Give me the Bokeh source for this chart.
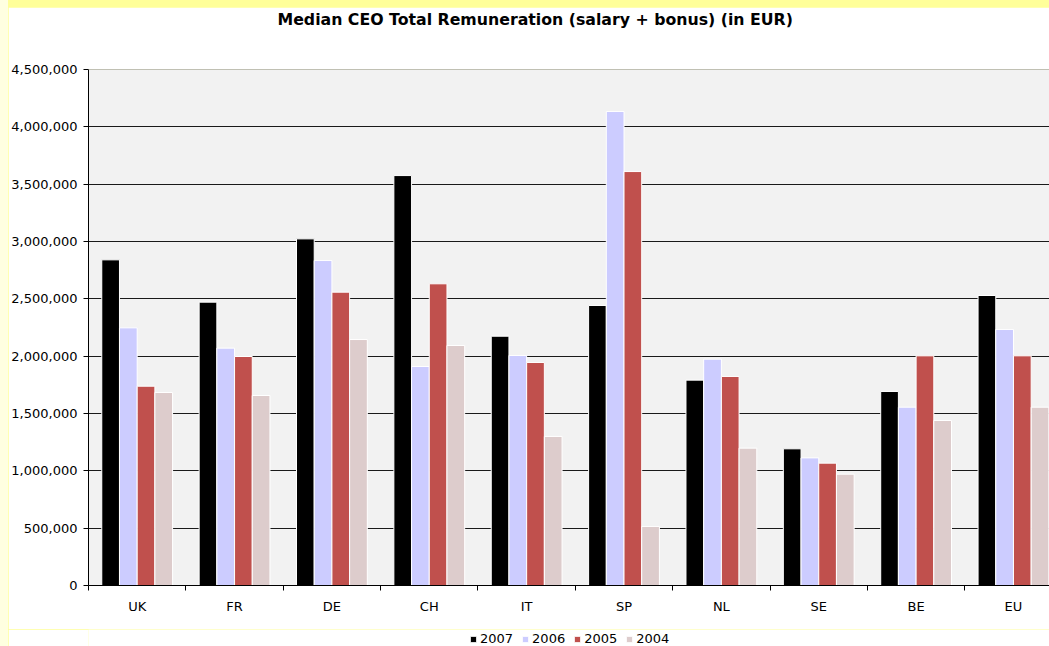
from bokeh.plotting import figure
from bokeh.models import (Range1d, FixedTicker, NumeralTickFormatter, Legend,
                          LegendItem, ColumnDataSource, Span, Title)
from bokeh.layouts import column
from bokeh.embed import file_html
from bokeh.resources import INLINE

countries = ["UK", "FR", "DE", "CH", "IT", "SP", "NL", "SE", "BE", "EU"]
years = ["2007", "2006", "2005", "2004"]
v2007 = [2840000, 2471000, 3023000, 3575000, 2174000, 2442000, 1791000, 1192000, 1692000, 2529000]
v2006 = [2247000, 2070000, 2834000, 1910000, 2006000, 4134000, 1974000, 1113000, 1555000, 2233000]
v2005 = [1738000, 1997000, 2558000, 2631000, 1945000, 3610000, 1823000, 1067000, 2003000, 2003000]
v2004 = [1683000, 1657000, 2145000, 2093000, 1300000, 515000, 1198000, 971000, 1439000, 1555000]
yticks = [0, 500000, 1000000, 1500000, 2000000, 2500000, 3000000, 3500000, 4000000, 4500000]
title_text = "Median CEO Total Remuneration (salary + bonus) (in EUR)"

colors = ["#000000", "#CCCCFF", "#C0504D", "#DDCCCC"]
FONT = "DejaVu Sans"

n = len(countries)
p = figure(width=1041, height=622,
           x_range=Range1d(0, 9.87), y_range=Range1d(0, 4500000),
           output_backend="svg", toolbar_location=None,
           min_border_left=80, min_border_right=0, min_border_bottom=44, min_border_top=62,
           background_fill_color="#F2F2F2", border_fill_color="white",
           outline_line_color=None)
p.title.text = ""
p.title.standoff = 0

# spacer between frame and title, then the title itself
p.add_layout(Title(text=" ", text_font_size="1px", standoff=38), "above")
p.add_layout(Title(text=title_text, align="left", offset=189, standoff=0,
                   text_font=FONT, text_font_size="15.75px", text_font_style="bold",
                   text_color="black"), "above")

# bars
w = 1 / 5.5
series = [v2007, v2006, v2005, v2004]
sources = []
for k, (vals, c) in enumerate(zip(series, colors)):
    xs = [i + (1.25 + k) / 5.5 for i in range(n)]
    src = ColumnDataSource(dict(x=xs, top=vals))
    sources.append(src)
    p.vbar(x="x", top="top", width=w, bottom=0, source=src,
           fill_color=c, line_color="white", line_width=1)

# grid
p.xgrid.visible = False
p.ygrid.ticker = FixedTicker(ticks=yticks[1:-1])
p.ygrid.grid_line_color = "#1a1a1a"
p.ygrid.grid_line_width = 1
p.ygrid.level = "underlay"
p.add_layout(Span(location=yticks[-1], dimension="width", line_color="#888888", line_width=1))

# y axis
p.yaxis.ticker = FixedTicker(ticks=yticks)
p.yaxis.formatter = NumeralTickFormatter(format="0,0")
p.yaxis.major_tick_in = 0
p.yaxis.major_tick_out = 5
p.yaxis.minor_tick_line_color = None
p.yaxis.axis_line_color = "black"
p.yaxis.major_tick_line_color = "black"
p.yaxis.major_label_text_font = FONT
p.yaxis.major_label_text_font_size = "13px"
p.yaxis.major_label_text_color = "black"
p.yaxis.major_label_standoff = 6

# x axis
centers = [i + 0.5 for i in range(n)]
p.xaxis.ticker = FixedTicker(ticks=centers, minor_ticks=list(range(n + 1)))
p.xaxis.major_label_overrides = {c: lab for c, lab in zip(centers, countries)}
p.xaxis.major_tick_line_color = None
p.xaxis.minor_tick_in = 0
p.xaxis.minor_tick_out = 5
p.xaxis.minor_tick_line_color = "black"
p.xaxis.axis_line_color = "black"
p.xaxis.major_label_text_font = FONT
p.xaxis.major_label_text_font_size = "13px"
p.xaxis.major_label_text_color = "black"
p.xaxis.major_label_standoff = 7

# legend strip below the chart (keys share the bar sources; the bars themselves
# lie outside this strip's range so only the legend shows)
lf = figure(width=1041, height=17, x_axis_type=None, y_axis_type=None,
            x_range=Range1d(-3, -2), y_range=Range1d(-3, -2),
            output_backend="svg", toolbar_location=None, min_border=0,
            outline_line_color=None, background_fill_color="white",
            border_fill_color="white")
lf.title.text = ""
lf.title.standoff = 0
keys = [lf.vbar(x="x", top="top", width=w, bottom=0, source=src,
                fill_color=c, line_color="white", line_width=1)
        for src, c in zip(sources, colors)]
legend = Legend(items=[LegendItem(label=yr, renderers=[r]) for yr, r in zip(years, keys)],
                location=(381, 0), orientation="horizontal",
                glyph_width=8, glyph_height=8, label_standoff=3, spacing=8,
                padding=0, margin=0, background_fill_alpha=0, border_line_color=None,
                label_text_font=FONT, label_text_font_size="13px", label_height=12,
                label_text_color="black")
lf.add_layout(legend)

p.margin = (7, 0, 0, 0)
inner = column(p, lf, spacing=0, styles={"background-color": "#FFFF99"}, margin=(0, 0, 0, 8))
outer = column(inner, styles={"background-color": "#FFFFE0"})

open("out.html", "w").write(file_html(outer, INLINE))
